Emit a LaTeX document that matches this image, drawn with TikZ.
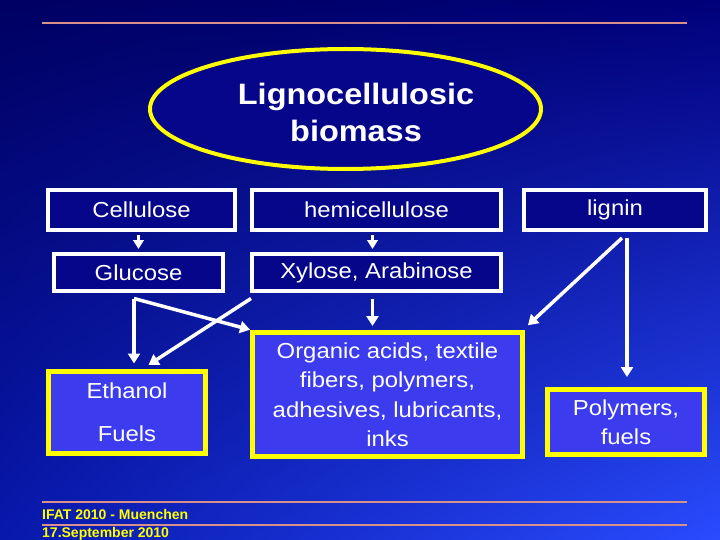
\documentclass[tikz,border=0pt]{standalone}
\usepackage{fontspec}
\setmainfont{Liberation Sans}
\newfontfamily\ls[FakeStretch=1.1]{Liberation Sans}
\usetikzlibrary{arrows.meta,calc,shapes.geometric,shadings}
\definecolor{bgA}{HTML}{000062}
\definecolor{bgB}{HTML}{00007A}
\definecolor{bgC}{HTML}{0818AC}
\definecolor{bgD}{HTML}{2A4CFF}
\definecolor{navyfill}{HTML}{06068A}
\definecolor{litefill}{HTML}{3C3CEE}
\definecolor{rule}{HTML}{D8908A}
\definecolor{yel}{HTML}{FFFF00}
\tikzset{
  wbox/.style={draw=white, line width=4pt, fill=navyfill, rectangle, inner sep=0pt, text=white,
     font=\ls\fontsize{21.7}{29}\selectfont, align=center},
  ybox/.style={draw=yel, line width=5pt, fill=litefill, rectangle, inner sep=0pt, text=white,
     font=\ls\fontsize{21.7}{29.5}\selectfont, align=center},
  arr/.style={draw=white, line width=3.5pt, -{Triangle[width=12pt,length=10pt]}},
  sarr/.style={draw=white, line width=3pt, -{Triangle[width=10.5pt,length=9pt]}},
  ruleline/.style={draw=rule, line width=2pt},
  foot/.style={text=yel, font=\bfseries\fontsize{14}{16}\selectfont, anchor=base west, inner sep=0pt}
}
\begin{document}
\begin{tikzpicture}[x=1pt,y=-1pt]
\shade[upper left=bgA, upper right=bgB, lower left=bgC, lower right=bgD] (0,0) rectangle (720,540);
\useasboundingbox (0,0) rectangle (720,540);
% rules
\draw[ruleline] (42,23) -- (687,23);
\draw[ruleline] (42,502) -- (687,502);
\draw[ruleline] (42,525) -- (687,525);
% ellipse
\node[ellipse, draw=yel, line width=4pt, fill=navyfill, minimum width=391pt, minimum height=120pt, inner sep=0pt] (bio) at (345.5,109) {};
\node[text=white, font=\ls\bfseries\fontsize{29.5}{37}\selectfont, align=center] (biot) at (356,112) {Lignocellulosic\\biomass};
% boxes
\node[wbox, minimum width=187pt, minimum height=40pt] (cell) at (141.5,210) {Cellulose};
\node[wbox, minimum width=249pt, minimum height=40pt] (hemi) at (376.5,210) {hemicellulose};
\node[wbox, minimum width=182pt, minimum height=40pt] (lig) at (615,210) {lignin};
\node[wbox, minimum width=169pt, minimum height=37pt] (glu) at (138.5,272.5) {Glucose};
\node[wbox, minimum width=249pt, minimum height=37pt] (xyl) at (376.5,272.5) {Xylose, Arabinose};
\node[ybox, minimum width=270pt, minimum height=124pt] (org) at (387.5,394.5) {Organic acids, textile\\fibers, polymers,\\adhesives, lubricants,\\inks};
\node[ybox, minimum width=157pt, minimum height=82pt, font=\ls\fontsize{21.7}{43}\selectfont] (eth) at (127,412) {Ethanol\\Fuels};
\node[ybox, minimum width=157pt, minimum height=65pt] (poly) at (626,422) {Polymers,\\fuels};
% arrows
\draw[sarr, shorten <=3pt, shorten >=3pt] (glu.north |- cell.south) -- (glu.north);
\draw[sarr, shorten <=3pt, shorten >=3pt] ([xshift=-4pt]hemi.south) -- ([xshift=-4pt]xyl.north);
\draw[arr, shorten <=6pt, shorten >=4pt] ([xshift=-4pt]xyl.south) -- ([xshift=-4pt]xyl.south |- org.north);
\coordinate (j) at ($(glu.south)+(-4.5,5.5)$);
\draw[arr, shorten >=5pt] (j) -- (j |- eth.north);
\draw[arr, shorten >=1pt] (j) -- ($(org.north west)+(1,0)$);
\coordinate (xs) at ($(xyl.south west)+(1,5.5)$);
\draw[arr, shorten >=3pt] (xs) -- ($(eth.north)+(19,-2)$);
\coordinate (ls) at ($(lig.south)+(7,6)$);
\draw[arr, shorten >=4pt] (ls) -- ($(org.north east)+(0,-2)$);
\draw[arr, shorten <=6pt, shorten >=10pt] ([xshift=1pt]poly.north |- lig.south) -- ([xshift=1pt]poly.north);
% footer
\node[foot] (f1) at (42,519) {IFAT 2010 - Muenchen};
\node[foot] (f2) at (42,537) {17.September 2010};
\end{tikzpicture}
\end{document}
